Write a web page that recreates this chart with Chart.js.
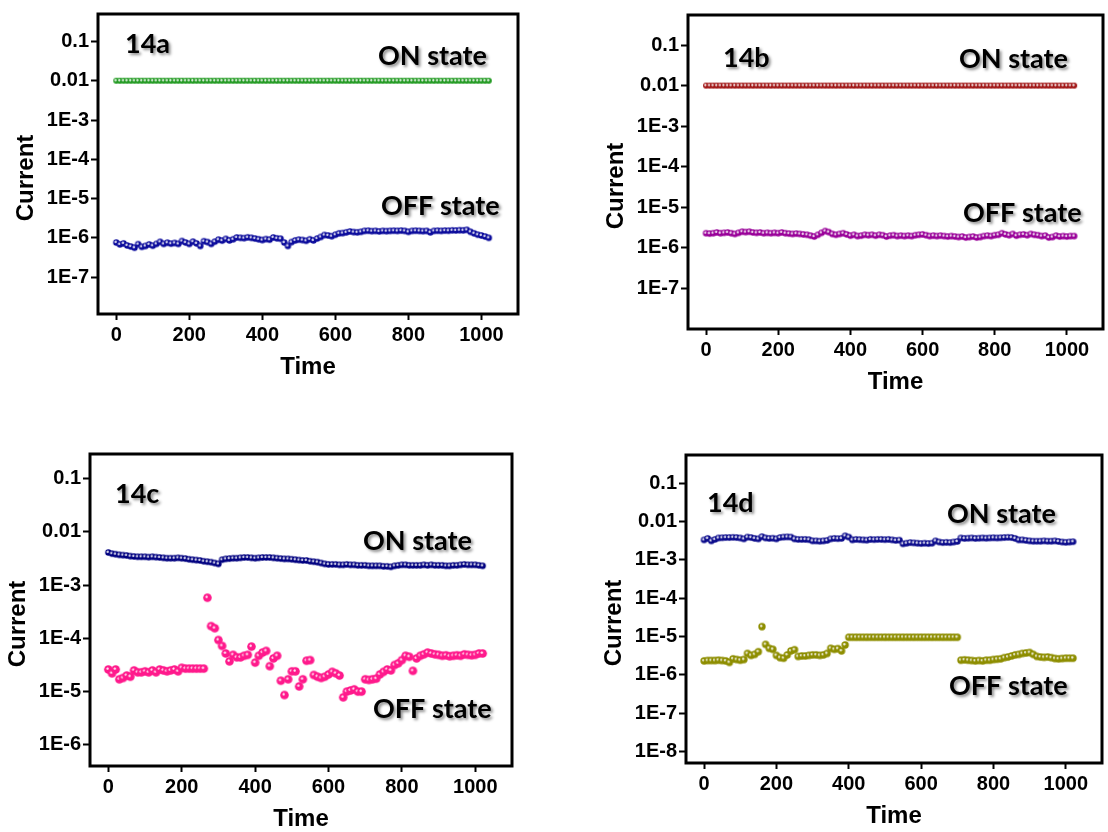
<!DOCTYPE html>
<html>
<head>
<meta charset="utf-8">
<title>Current vs Time (14a-14d)</title>
<script src="https://cdn.jsdelivr.net/npm/chart.js@4.4.1/dist/chart.umd.min.js"></script>
<style>
  html, body { margin: 0; padding: 0; background: #fff; }
  body { width: 1108px; height: 832px; position: relative; overflow: hidden; }
  canvas { position: absolute; }
</style>
</head>
<body>
<canvas id="c14a" width="550" height="390" style="left:0;top:0"></canvas>
<canvas id="c14b" width="518" height="400" style="left:590px;top:0"></canvas>
<canvas id="c14c" width="550" height="392" style="left:0;top:440px"></canvas>
<canvas id="c14d" width="518" height="392" style="left:590px;top:440px"></canvas>

<script>
// ===============================
// Data
// ===============================
const time = [
  0, 10, 20, 30, 40, 50, 60, 70, 80, 90,
  100, 110, 120, 130, 140, 150, 160, 170, 180, 190,
  200, 210, 220, 230, 240, 250, 260, 270, 280, 290,
  300, 310, 320, 330, 340, 350, 360, 370, 380, 390,
  400, 410, 420, 430, 440, 450, 460, 470, 480, 490,
  500, 510, 520, 530, 540, 550, 560, 570, 580, 590,
  600, 610, 620, 630, 640, 650, 660, 670, 680, 690,
  700, 710, 720, 730, 740, 750, 760, 770, 780, 790,
  800, 810, 820, 830, 840, 850, 860, 870, 880, 890,
  900, 910, 920, 930, 940, 950, 960, 970, 980, 990,
  1000, 1010, 1020
];

// 14a
const onA = [
  0.01, 0.01, 0.01, 0.01, 0.01, 0.01, 0.01, 0.01, 0.01, 0.01,
  0.01, 0.01, 0.01, 0.01, 0.01, 0.01, 0.01, 0.01, 0.01, 0.01,
  0.01, 0.01, 0.01, 0.01, 0.01, 0.01, 0.01, 0.01, 0.01, 0.01,
  0.01, 0.01, 0.01, 0.01, 0.01, 0.01, 0.01, 0.01, 0.01, 0.01,
  0.01, 0.01, 0.01, 0.01, 0.01, 0.01, 0.01, 0.01, 0.01, 0.01,
  0.01, 0.01, 0.01, 0.01, 0.01, 0.01, 0.01, 0.01, 0.01, 0.01,
  0.01, 0.01, 0.01, 0.01, 0.01, 0.01, 0.01, 0.01, 0.01, 0.01,
  0.01, 0.01, 0.01, 0.01, 0.01, 0.01, 0.01, 0.01, 0.01, 0.01,
  0.01, 0.01, 0.01, 0.01, 0.01, 0.01, 0.01, 0.01, 0.01, 0.01,
  0.01, 0.01, 0.01, 0.01, 0.01, 0.01, 0.01, 0.01, 0.01, 0.01,
  0.01, 0.01, 0.01
];
const offA = [
  7.6e-7, 6.8e-7, 7.2e-7, 6.4e-7, 6.0e-7, 5.6e-7, 6.9e-7, 5.9e-7, 6.2e-7, 6.8e-7,
  6.3e-7, 7.0e-7, 7.9e-7, 7.0e-7, 7.5e-7, 7.1e-7, 7.4e-7, 7.0e-7, 8.3e-7, 7.6e-7,
  7.0e-7, 8.0e-7, 7.2e-7, 6.2e-7, 8.2e-7, 7.8e-7, 7.0e-7, 8.0e-7, 9.0e-7, 8.5e-7,
  9.4e-7, 8.6e-7, 9.2e-7, 1.02e-6, 1.0e-6, 9.8e-7, 1.03e-6, 1.0e-6, 9.6e-7, 9.2e-7,
  8.8e-7, 9.3e-7, 9.0e-7, 1.02e-6, 9.7e-7, 9.5e-7, 7.6e-7, 6.2e-7, 7.8e-7, 8.6e-7,
  9.0e-7, 8.8e-7, 8.4e-7, 9.2e-7, 8.6e-7, 9.6e-7, 1.05e-6, 1.18e-6, 1.15e-6, 1.1e-6,
  1.2e-6, 1.3e-6, 1.32e-6, 1.38e-6, 1.45e-6, 1.4e-6, 1.38e-6, 1.42e-6, 1.5e-6, 1.52e-6,
  1.48e-6, 1.5e-6, 1.46e-6, 1.5e-6, 1.48e-6, 1.5e-6, 1.52e-6, 1.5e-6, 1.53e-6, 1.5e-6,
  1.42e-6, 1.5e-6, 1.52e-6, 1.5e-6, 1.48e-6, 1.5e-6, 1.38e-6, 1.5e-6, 1.52e-6, 1.5e-6,
  1.53e-6, 1.52e-6, 1.55e-6, 1.54e-6, 1.56e-6, 1.55e-6, 1.6e-6, 1.42e-6, 1.3e-6, 1.2e-6,
  1.15e-6, 1.08e-6, 1.0e-6
];

// 14b
const onB = [
  0.01, 0.01, 0.01, 0.01, 0.01, 0.01, 0.01, 0.01, 0.01, 0.01,
  0.01, 0.01, 0.01, 0.01, 0.01, 0.01, 0.01, 0.01, 0.01, 0.01,
  0.01, 0.01, 0.01, 0.01, 0.01, 0.01, 0.01, 0.01, 0.01, 0.01,
  0.01, 0.01, 0.01, 0.01, 0.01, 0.01, 0.01, 0.01, 0.01, 0.01,
  0.01, 0.01, 0.01, 0.01, 0.01, 0.01, 0.01, 0.01, 0.01, 0.01,
  0.01, 0.01, 0.01, 0.01, 0.01, 0.01, 0.01, 0.01, 0.01, 0.01,
  0.01, 0.01, 0.01, 0.01, 0.01, 0.01, 0.01, 0.01, 0.01, 0.01,
  0.01, 0.01, 0.01, 0.01, 0.01, 0.01, 0.01, 0.01, 0.01, 0.01,
  0.01, 0.01, 0.01, 0.01, 0.01, 0.01, 0.01, 0.01, 0.01, 0.01,
  0.01, 0.01, 0.01, 0.01, 0.01, 0.01, 0.01, 0.01, 0.01, 0.01,
  0.01, 0.01, 0.01
];
const offB = [
  2.3e-6, 2.25e-6, 2.3e-6, 2.4e-6, 2.3e-6, 2.35e-6, 2.4e-6, 2.3e-6, 2.2e-6, 2.35e-6,
  2.5e-6, 2.45e-6, 2.5e-6, 2.4e-6, 2.35e-6, 2.4e-6, 2.3e-6, 2.35e-6, 2.3e-6, 2.35e-6,
  2.3e-6, 2.4e-6, 2.3e-6, 2.25e-6, 2.2e-6, 2.25e-6, 2.2e-6, 2.15e-6, 2.1e-6, 2.0e-6,
  1.9e-6, 2.1e-6, 2.35e-6, 2.6e-6, 2.45e-6, 2.2e-6, 2.1e-6, 2.2e-6, 2.3e-6, 2.15e-6,
  2.0e-6, 2.1e-6, 1.95e-6, 2.0e-6, 2.1e-6, 2.05e-6, 2.1e-6, 2.0e-6, 2.1e-6, 2.05e-6,
  1.9e-6, 2.0e-6, 2.05e-6, 1.95e-6, 2.0e-6, 1.95e-6, 2.0e-6, 1.95e-6, 2.05e-6, 2.1e-6,
  2.15e-6, 2.05e-6, 1.95e-6, 2.0e-6, 1.95e-6, 2.0e-6, 1.95e-6, 1.9e-6, 1.95e-6, 1.9e-6,
  1.85e-6, 1.9e-6, 1.8e-6, 1.85e-6, 1.9e-6, 1.8e-6, 1.85e-6, 1.95e-6, 2.0e-6, 1.95e-6,
  2.05e-6, 2.1e-6, 2.3e-6, 2.15e-6, 2.05e-6, 2.2e-6, 2.0e-6, 2.1e-6, 2.15e-6, 2.05e-6,
  2.2e-6, 2.1e-6, 2.05e-6, 1.95e-6, 2.0e-6, 1.8e-6, 1.85e-6, 2.0e-6, 1.9e-6, 1.95e-6,
  1.9e-6, 1.95e-6, 1.95e-6
];

// 14c
const onC = [
  4.1e-3, 3.9e-3, 3.8e-3, 3.7e-3, 3.65e-3, 3.6e-3, 3.5e-3, 3.45e-3, 3.4e-3, 3.4e-3,
  3.4e-3, 3.35e-3, 3.4e-3, 3.35e-3, 3.3e-3, 3.25e-3, 3.2e-3, 3.2e-3, 3.2e-3, 3.25e-3,
  3.2e-3, 3.15e-3, 3.05e-3, 3.0e-3, 2.95e-3, 2.9e-3, 2.8e-3, 2.75e-3, 2.7e-3, 2.6e-3,
  2.5e-3, 3.0e-3, 3.1e-3, 3.15e-3, 3.2e-3, 3.2e-3, 3.25e-3, 3.3e-3, 3.3e-3, 3.25e-3,
  3.2e-3, 3.25e-3, 3.3e-3, 3.3e-3, 3.3e-3, 3.25e-3, 3.2e-3, 3.15e-3, 3.1e-3, 3.1e-3,
  3.05e-3, 3.0e-3, 2.95e-3, 2.9e-3, 2.9e-3, 2.8e-3, 2.75e-3, 2.7e-3, 2.6e-3, 2.5e-3,
  2.45e-3, 2.45e-3, 2.45e-3, 2.4e-3, 2.4e-3, 2.45e-3, 2.4e-3, 2.4e-3, 2.35e-3, 2.35e-3,
  2.35e-3, 2.3e-3, 2.3e-3, 2.3e-3, 2.3e-3, 2.25e-3, 2.25e-3, 2.2e-3, 2.3e-3, 2.35e-3,
  2.4e-3, 2.4e-3, 2.35e-3, 2.35e-3, 2.35e-3, 2.35e-3, 2.4e-3, 2.35e-3, 2.4e-3, 2.35e-3,
  2.35e-3, 2.35e-3, 2.3e-3, 2.3e-3, 2.35e-3, 2.35e-3, 2.4e-3, 2.45e-3, 2.4e-3, 2.4e-3,
  2.4e-3, 2.35e-3, 2.3e-3
];
const offC = [
  2.6e-5, 2.2e-5, 2.6e-5, 1.7e-5, 1.8e-5, 2.0e-5, 1.9e-5, 2.5e-5, 2.3e-5, 2.3e-5,
  2.4e-5, 2.3e-5, 2.5e-5, 2.3e-5, 2.6e-5, 2.5e-5, 2.4e-5, 2.5e-5, 2.6e-5, 2.4e-5,
  2.8e-5, 2.7e-5, 2.7e-5, 2.7e-5, 2.7e-5, 2.7e-5, 2.7e-5, 5.8e-4, 1.7e-4, 1.55e-4,
  9.3e-5, 7.2e-5, 5.2e-5, 3.7e-5, 4.9e-5, 4.4e-5, 4.4e-5, 4.7e-5, 4.9e-5, 7.0e-5,
  3.5e-5, 4.7e-5, 5.4e-5, 5.8e-5, 3.0e-5, 4.2e-5, 4.7e-5, 1.6e-5, 8.6e-6, 1.7e-5,
  2.4e-5, 2.4e-5, 1.25e-5, 1.7e-5, 3.8e-5, 3.9e-5, 2.05e-5, 1.9e-5, 1.8e-5, 1.9e-5,
  2.1e-5, 2.35e-5, 2.2e-5, 2.0e-5, 7.8e-6, 1.0e-5, 1.05e-5, 1.1e-5, 1.0e-5, 1.0e-5,
  1.7e-5, 1.65e-5, 1.7e-5, 1.75e-5, 2.1e-5, 2.35e-5, 2.6e-5, 2.5e-5, 3.15e-5, 3.4e-5,
  3.9e-5, 4.7e-5, 4.5e-5, 2.45e-5, 4.2e-5, 4.7e-5, 5.0e-5, 5.4e-5, 5.2e-5, 5.0e-5,
  4.9e-5, 4.7e-5, 4.8e-5, 4.6e-5, 4.7e-5, 4.8e-5, 4.7e-5, 5.0e-5, 4.9e-5, 4.8e-5,
  4.9e-5, 5.2e-5, 5.2e-5
];

// 14d
const onD = [
  3.3e-3, 3.6e-3, 3.1e-3, 3.4e-3, 3.7e-3, 3.75e-3, 3.8e-3, 3.8e-3, 3.85e-3, 3.8e-3,
  3.7e-3, 3.5e-3, 3.9e-3, 3.8e-3, 3.6e-3, 3.5e-3, 4.0e-3, 3.7e-3, 3.6e-3, 3.65e-3,
  3.5e-3, 3.8e-3, 3.9e-3, 3.95e-3, 3.9e-3, 3.5e-3, 3.4e-3, 3.4e-3, 3.4e-3, 3.35e-3,
  3.1e-3, 3.1e-3, 3.05e-3, 3.1e-3, 3.2e-3, 3.5e-3, 3.6e-3, 3.55e-3, 3.6e-3, 4.2e-3,
  3.9e-3, 3.3e-3, 3.4e-3, 3.35e-3, 3.3e-3, 3.25e-3, 3.4e-3, 3.35e-3, 3.4e-3, 3.4e-3,
  3.35e-3, 3.4e-3, 3.3e-3, 3.2e-3, 3.25e-3, 2.6e-3, 2.7e-3, 2.8e-3, 2.75e-3, 2.7e-3,
  2.65e-3, 2.7e-3, 2.65e-3, 2.7e-3, 3.1e-3, 2.9e-3, 2.8e-3, 2.85e-3, 2.8e-3, 2.9e-3,
  3.0e-3, 3.7e-3, 3.6e-3, 3.65e-3, 3.7e-3, 3.6e-3, 3.65e-3, 3.7e-3, 3.65e-3, 3.7e-3,
  3.75e-3, 3.7e-3, 3.75e-3, 3.8e-3, 3.85e-3, 3.8e-3, 3.6e-3, 3.3e-3, 3.3e-3, 3.2e-3,
  3.1e-3, 3.05e-3, 3.05e-3, 3.05e-3, 3.1e-3, 3.05e-3, 3.05e-3, 3.1e-3, 3.0e-3, 2.9e-3,
  2.85e-3, 2.9e-3, 2.95e-3
];
const offD = [
  2.3e-6, 2.35e-6, 2.35e-6, 2.35e-6, 2.4e-6, 2.35e-6, 2.3e-6, 2.1e-6, 2.6e-6, 2.5e-6,
  2.4e-6, 2.5e-6, 3.6e-6, 3.2e-6, 3.4e-6, 4.0e-6, 1.8e-5, 6.2e-6, 4.9e-6, 4.6e-6,
  3.2e-6, 2.8e-6, 2.7e-6, 3.3e-6, 4.2e-6, 4.5e-6, 3.0e-6, 3.1e-6, 3.1e-6, 3.2e-6,
  3.3e-6, 3.3e-6, 3.2e-6, 3.3e-6, 3.6e-6, 4.9e-6, 4.6e-6, 4.8e-6, 4.2e-6, 6.0e-6,
  9.5e-6, 9.5e-6, 9.5e-6, 9.5e-6, 9.5e-6, 9.5e-6, 9.5e-6, 9.5e-6, 9.5e-6, 9.5e-6,
  9.5e-6, 9.5e-6, 9.5e-6, 9.5e-6, 9.5e-6, 9.5e-6, 9.5e-6, 9.5e-6, 9.5e-6, 9.5e-6,
  9.5e-6, 9.5e-6, 9.5e-6, 9.5e-6, 9.5e-6, 9.5e-6, 9.5e-6, 9.5e-6, 9.5e-6, 9.5e-6,
  9.5e-6, 2.4e-6, 2.45e-6, 2.4e-6, 2.35e-6, 2.3e-6, 2.35e-6, 2.3e-6, 2.4e-6, 2.4e-6,
  2.5e-6, 2.55e-6, 2.6e-6, 2.8e-6, 2.9e-6, 3.1e-6, 3.3e-6, 3.4e-6, 3.6e-6, 3.7e-6,
  3.8e-6, 3.4e-6, 3.0e-6, 2.9e-6, 2.85e-6, 2.9e-6, 2.8e-6, 2.65e-6, 2.6e-6, 2.65e-6,
  2.7e-6, 2.7e-6, 2.7e-6
];

// Tick labels
const xTickValues = [0, 200, 400, 600, 800, 1000];
const xTickLabels = ['0', '200', '400', '600', '800', '1000'];
const yTickValues = [1e-8, 1e-7, 1e-6, 1e-5, 1e-4, 1e-3, 0.01, 0.1];
const yTickLabels = ['1E-8', '1E-7', '1E-6', '1E-5', '1E-4', '1E-3', '0.01', '0.1'];

// ===============================
// Panel setup
// ===============================
const panels = [
  {
    id: 'c14a', on: onA, off: offA,
    onColor: '#229a22', offColor: '#0c0c9c', onR: 3, offR: 3.2, onHi: 0.55, offHi: 0.55,
    yMin: 1.15e-8, yMax: 0.5, yLow: 1e-7,
    area: { left: 98, top: 13, right: 518, bottom: 314 },
    notes: [['14a', 125, 53], ['ON state', 378, 65], ['OFF state', 381, 215]]
  },
  {
    id: 'c14b', on: onB, off: offB,
    onColor: '#a01414', offColor: '#990099', onR: 3, offR: 3.2, onHi: 0.55, offHi: 0.55,
    yMin: 1e-8, yMax: 0.55, yLow: 1e-7,
    area: { left: 98, top: 15, right: 517, bottom: 329 },
    notes: [['14b', 133, 67], ['ON state', 369, 68], ['OFF state', 373, 222]]
  },
  {
    id: 'c14c', on: onC, off: offC,
    onColor: '#000080', offColor: '#ff1a8c', onR: 3.2, offR: 4.3, onHi: 0.55, offHi: 0.38,
    yMin: 4e-7, yMax: 0.29, yLow: 1e-6,
    area: { left: 90, top: 13, right: 512, bottom: 326 },
    notes: [['14c', 115, 63], ['ON state', 363, 110], ['OFF state', 373, 278]]
  },
  {
    id: 'c14d', on: onD, off: offD,
    onColor: '#0c0c8c', offColor: '#8e8e00', onR: 3.3, offR: 3.7, onHi: 0.55, offHi: 0.45,
    yMin: 5e-9, yMax: 0.54, yLow: 1e-8,
    area: { left: 96, top: 15, right: 512, bottom: 323 },
    notes: [['14d', 117, 72], ['ON state', 357, 83], ['OFF state', 359, 255]]
  }
];

// small shaded sphere used as the marker
function sphere(color, r, hi) {
  const c = document.createElement('canvas');
  const s = Math.ceil(r * 2 + 2);
  c.width = s; c.height = s;
  const g = c.getContext('2d');
  const m = s / 2;
  g.beginPath();
  g.arc(m, m, r, 0, Math.PI * 2);
  g.fillStyle = color;
  g.fill();
  const hx = m - r * 0.2, hy = m - r * 0.2;
  const grd = g.createRadialGradient(hx, hy, 0, hx, hy, r * hi);
  grd.addColorStop(0, 'rgba(255,255,255,0.95)');
  grd.addColorStop(0.55, 'rgba(255,255,255,0.7)');
  grd.addColorStop(1, 'rgba(255,255,255,0)');
  g.fillStyle = grd;
  g.beginPath();
  g.arc(m, m, r, 0, Math.PI * 2);
  g.fill();
  return c;
}

function yLabel(v) {
  for (let j = 0; j < yTickValues.length; j++) {
    if (Math.abs(Math.log10(v) - Math.log10(yTickValues[j])) < 1e-6) return yTickLabels[j];
  }
  return '';
}

function xLabel(v) {
  const j = xTickValues.indexOf(v);
  return j < 0 ? '' : xTickLabels[j];
}

const tickFont = { family: '"Liberation Sans", Arial, sans-serif', size: 20, weight: 'bold' };

// frame, axis titles and in-plot notes
const decorPlugin = {
  id: 'decor',
  afterDraw(chart, args, opts) {
    const ctx = chart.ctx;
    const a = chart.chartArea;
    ctx.save();
    ctx.strokeStyle = '#000';
    ctx.lineWidth = 3;
    ctx.strokeRect(a.left, a.top, a.right - a.left, a.bottom - a.top);

    ctx.fillStyle = '#000';
    ctx.font = 'bold 24px "Liberation Sans", Arial, sans-serif';
    ctx.textAlign = 'center';
    ctx.textBaseline = 'middle';
    ctx.fillText('Time', (a.left + a.right) / 2, a.bottom + 53);
    ctx.save();
    ctx.translate(a.left - 72, (a.top + a.bottom) / 2 + 14);
    ctx.rotate(-Math.PI / 2);
    ctx.fillText('Current', 0, 0);
    ctx.restore();

    ctx.font = 'bold 27px Lato, "Open Sans", sans-serif';
    ctx.textAlign = 'left';
    ctx.textBaseline = 'alphabetic';
    ctx.shadowColor = 'rgba(0,0,0,0.45)';
    ctx.shadowOffsetX = 2;
    ctx.shadowOffsetY = 2;
    ctx.shadowBlur = 3;
    opts.notes.forEach(n => ctx.fillText(n[0], n[1], n[2]));
    ctx.restore();
  }
};

panels.forEach(p => {
  const canvas = document.getElementById(p.id);
  const W = canvas.width, H = canvas.height;
  const ar = p.area;
  const yTicks = yTickValues.filter(v => v >= p.yLow);

  new Chart(canvas, {
    type: 'scatter',
    data: {
      datasets: [
        {
          label: 'ON state',
          data: time.map((t, i) => ({ x: t, y: p.on[i] })),
          pointStyle: sphere(p.onColor, p.onR, p.onHi),
          pointRadius: p.onR
        },
        {
          label: 'OFF state',
          data: time.map((t, i) => ({ x: t, y: p.off[i] })),
          pointStyle: sphere(p.offColor, p.offR, p.offHi),
          pointRadius: p.offR
        }
      ]
    },
    options: {
      responsive: false,
      animation: false,
      devicePixelRatio: 1,
      layout: { padding: { left: 0, top: ar.top, right: W - ar.right, bottom: 0 } },
      plugins: {
        legend: { display: false },
        tooltip: { enabled: false },
        decor: { notes: p.notes }
      },
      scales: {
        x: {
          type: 'linear',
          min: -50,
          max: 1100,
          afterBuildTicks: s => { s.ticks = xTickValues.map(v => ({ value: v })); },
          afterFit: s => { s.height = H - ar.bottom; },
          ticks: { font: tickFont, color: '#000', padding: 3, maxRotation: 0, autoSkip: false, callback: v => xLabel(v) },
          grid: { drawOnChartArea: false, tickLength: 6, tickWidth: 2, tickColor: '#000' },
          border: { display: false }
        },
        y: {
          type: 'logarithmic',
          min: p.yMin,
          max: p.yMax,
          afterBuildTicks: s => { s.ticks = yTicks.map(v => ({ value: v })); },
          afterFit: s => { s.width = ar.left; },
          ticks: { font: tickFont, color: '#000', padding: 2, autoSkip: false, callback: v => yLabel(v) },
          grid: { drawOnChartArea: false, tickLength: 7, tickWidth: 2, tickColor: '#000' },
          border: { display: false }
        }
      }
    },
    plugins: [decorPlugin]
  });
});
</script>
</body>
</html>
